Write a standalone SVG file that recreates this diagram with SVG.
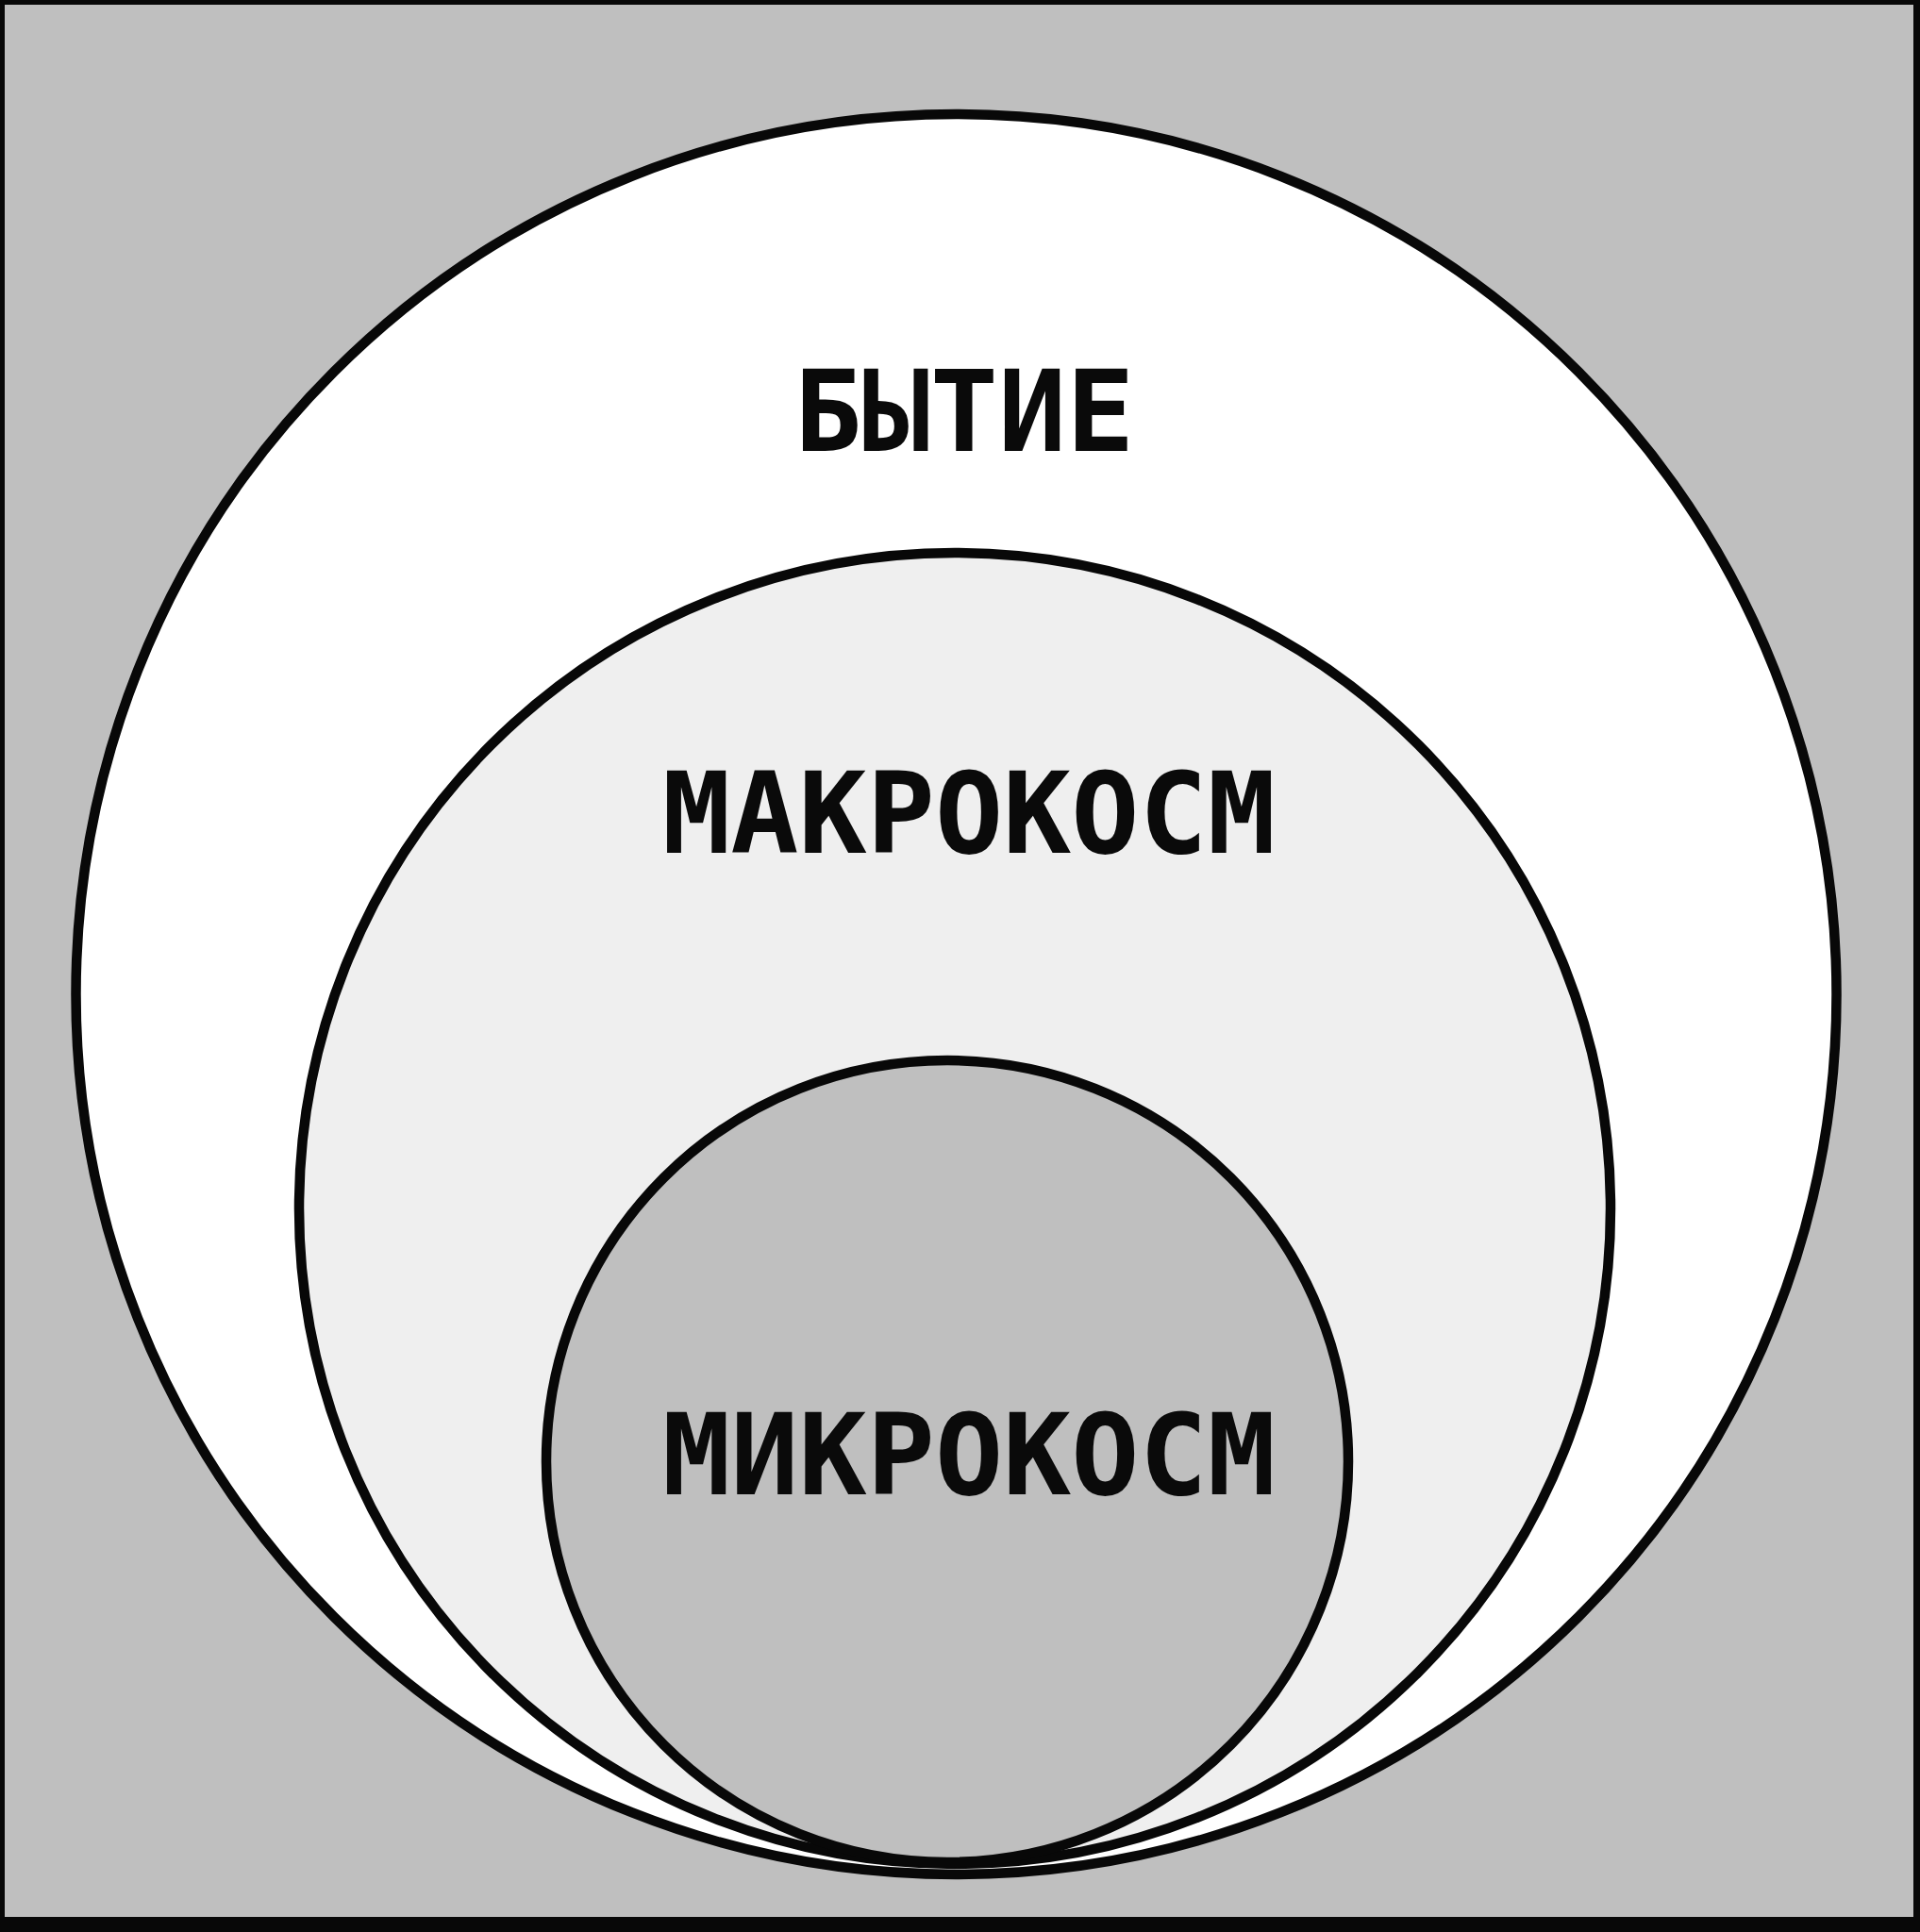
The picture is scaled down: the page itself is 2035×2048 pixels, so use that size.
<svg xmlns="http://www.w3.org/2000/svg" width="2035" height="2048" viewBox="0 0 2035 2048">
<style>
.ring{stroke:#080808;stroke-width:10.5}
.lbl{font-family:"DejaVu Sans Mono","Liberation Mono",monospace;font-weight:bold;font-size:120px;fill:#0a0a0a;text-anchor:middle}
</style>
<g id="frame">
<rect x="0" y="0" width="2035" height="2048" fill="#080808"/>
<rect x="5" y="5" width="2023" height="2027" fill="#bfbfbf"/>
</g>
<g id="bytie">
<circle class="ring" cx="1013.5" cy="1054" r="933" fill="#ffffff"/>
<text class="lbl" x="1022" y="478">БЫТИЕ</text>
</g>
<g id="makrokosm">
<circle class="ring" cx="1012" cy="1281" r="695" fill="#efefef"/>
<text class="lbl" x="1027" y="904">МАКРОКОСМ</text>
</g>
<g id="mikrokosm">
<circle class="ring" cx="1004" cy="1549" r="425" fill="#bfbfbf"/>
<text class="lbl" x="1027" y="1584">МИКРОКОСМ</text>
</g>
</svg>
